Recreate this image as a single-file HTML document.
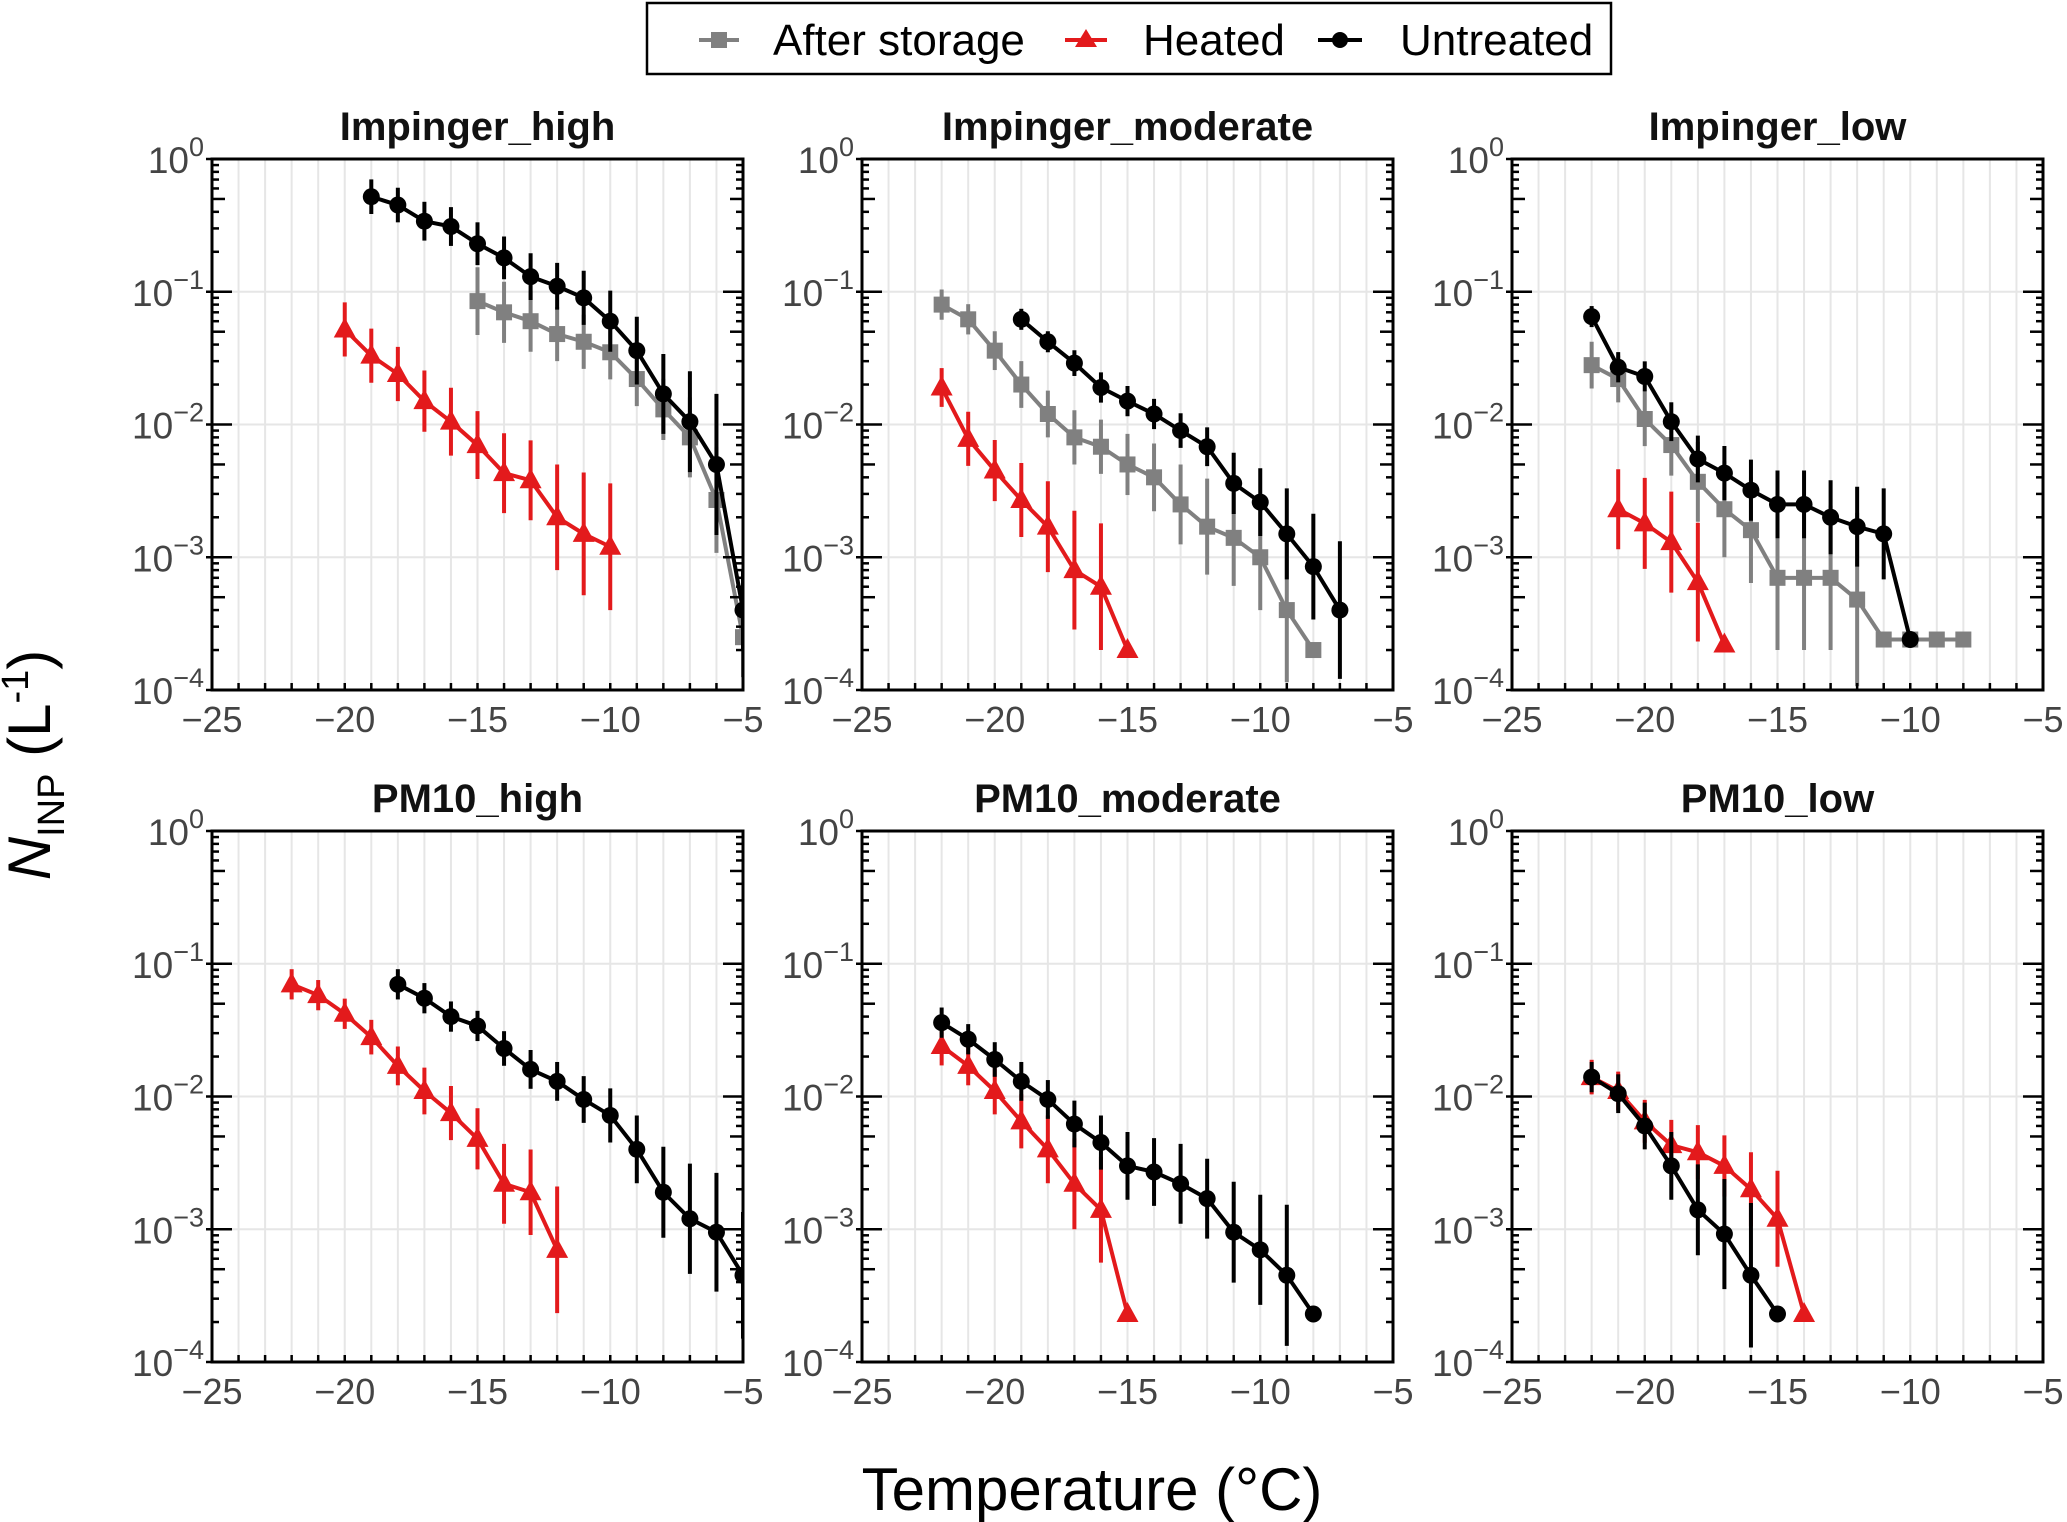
<!DOCTYPE html>
<html><head><meta charset="utf-8"><style>
html,body{margin:0;padding:0;background:#fff;}
svg{display:block;font-family:"Liberation Sans",Arial,sans-serif;}
</style></head><body>
<svg id="chart" width="2067" height="1522" viewBox="0 0 2067 1522" xmlns="http://www.w3.org/2000/svg">
<g>
<rect x="647" y="3" width="964" height="71" fill="#fff" stroke="#000" stroke-width="2.5"/>
<g>
<line x1="699" y1="40" x2="739" y2="40" stroke="#808080" stroke-width="4"/><rect x="711" y="32" width="16" height="16" fill="#808080"/>
<text x="773" y="55" font-size="44" fill="#000">After storage</text></g>
<g>
<line x1="1065" y1="40" x2="1107" y2="40" stroke="#e31a1c" stroke-width="4"/><polygon points="1086,29 1097,47 1075,47" fill="#e31a1c"/>
<text x="1143" y="55" font-size="44" fill="#000">Heated</text></g>
<g>
<line x1="1318" y1="40" x2="1362" y2="40" stroke="#000" stroke-width="4"/><circle cx="1340" cy="40" r="8" fill="#000"/>
<text x="1400" y="55" font-size="44" fill="#000">Untreated</text></g>
</g>
<text transform="translate(50,765) rotate(-90)" text-anchor="middle" font-size="60" fill="#000"><tspan font-style="italic">N</tspan><tspan font-size="38" dy="14">INP</tspan><tspan dy="-14"> (L</tspan><tspan font-size="38" dy="-22">-1</tspan><tspan dy="22">)</tspan></text>
<text x="1092" y="1510" text-anchor="middle" font-size="60" fill="#000">Temperature (°C)</text>
</svg>
<script>
// ---- data ----
const panelTitles = ["Impinger_high","Impinger_moderate","Impinger_low","PM10_high","PM10_moderate","PM10_low"];
const xTicks = [-25,-20,-15,-10,-5];
const yTickExps = [0,-1,-2,-3,-4];
// panel 1
const p1StorageX = [-15,-14,-13,-12,-11,-10,-9,-8,-7,-6,-5];
const p1StorageY = [0.085,0.07,0.06,0.048,0.042,0.035,0.022,0.013,0.008,0.0027,0.00025];
const p1StorageErr = [1.8,1.7,1.7,1.6,1.6,1.6,1.6,1.7,2.0,2.5,2];
const p1HeatedX = [-20,-19,-18,-17,-16,-15,-14,-13,-12,-11,-10];
const p1HeatedY = [0.052,0.033,0.024,0.015,0.0105,0.007,0.0043,0.0038,0.002,0.0015,0.0012];
const p1HeatedErr = [1.6,1.6,1.6,1.7,1.8,1.8,2.0,2.0,2.5,2.9,3.0];
const p1UntreatedX = [-19,-18,-17,-16,-15,-14,-13,-12,-11,-10,-9,-8,-7,-6,-5];
const p1UntreatedY = [0.52,0.45,0.34,0.31,0.23,0.18,0.13,0.11,0.09,0.06,0.036,0.017,0.0105,0.005,0.0004];
const p1UntreatedErr = [1.35,1.35,1.4,1.4,1.45,1.45,1.5,1.5,1.6,1.7,1.8,2.0,2.4,3.4,2];
// panel 2
const p2StorageX = [-22,-21,-20,-19,-18,-17,-16,-15,-14,-13,-12,-11,-10,-9,-8];
const p2StorageY = [0.08,0.062,0.036,0.02,0.012,0.008,0.0068,0.005,0.004,0.0025,0.0017,0.0014,0.001,0.0004,0.0002];
const p2StorageErr = [1.3,1.3,1.4,1.5,1.5,1.6,1.6,1.7,1.8,2.0,2.3,2.3,2.5,3.5,1];
const p2HeatedX = [-22,-21,-20,-19,-18,-17,-16,-15];
const p2HeatedY = [0.019,0.0078,0.0045,0.0027,0.0017,0.0008,0.0006,0.0002];
const p2HeatedErr = [1.4,1.6,1.7,1.9,2.2,2.8,3.0,1];
const p2UntreatedX = [-19,-18,-17,-16,-15,-14,-13,-12,-11,-10,-9,-8,-7];
const p2UntreatedY = [0.062,0.042,0.029,0.019,0.015,0.012,0.009,0.0068,0.0036,0.0026,0.0015,0.00085,0.0004];
const p2UntreatedErr = [1.2,1.2,1.25,1.3,1.3,1.3,1.35,1.4,1.7,1.8,2.2,2.5,3.3];
// panel 3
const p3StorageX = [-22,-21,-20,-19,-18,-17,-16,-15,-14,-13,-12,-11,-10,-9,-8];
const p3StorageY = [0.028,0.022,0.011,0.007,0.0037,0.0023,0.0016,0.0007,0.0007,0.0007,0.00048,0.00024,0.00024,0.00024,0.00024];
const p3StorageErr = [1.5,1.5,1.6,1.7,2.0,2.3,2.5,3.5,3.5,3.5,4.5,1,1,1,1];
const p3HeatedX = [-21,-20,-19,-18,-17];
const p3HeatedY = [0.0023,0.0018,0.0013,0.00065,0.00022];
const p3HeatedErr = [2.0,2.2,2.4,2.8,1];
const p3UntreatedX = [-22,-21,-20,-19,-18,-17,-16,-15,-14,-13,-12,-11,-10];
const p3UntreatedY = [0.065,0.027,0.023,0.0105,0.0055,0.0043,0.0032,0.0025,0.0025,0.002,0.0017,0.0015,0.00024];
const p3UntreatedErr = [1.2,1.3,1.3,1.4,1.5,1.6,1.7,1.8,1.8,1.9,2.0,2.2,1];
// panel 4
const p4HeatedX = [-22,-21,-20,-19,-18,-17,-16,-15,-14,-13,-12];
const p4HeatedY = [0.07,0.058,0.042,0.028,0.017,0.011,0.0075,0.0048,0.0022,0.0019,0.0007];
const p4HeatedErr = [1.3,1.3,1.3,1.35,1.4,1.5,1.6,1.7,2.0,2.1,3.0];
const p4UntreatedX = [-18,-17,-16,-15,-14,-13,-12,-11,-10,-9,-8,-7,-6,-5];
const p4UntreatedY = [0.07,0.055,0.04,0.034,0.023,0.016,0.013,0.0095,0.0072,0.004,0.0019,0.0012,0.00095,0.00045];
const p4UntreatedErr = [1.3,1.3,1.3,1.3,1.35,1.4,1.4,1.5,1.6,1.8,2.2,2.6,2.8,3];
// panel 5
const p5HeatedX = [-22,-21,-20,-19,-18,-17,-16,-15];
const p5HeatedY = [0.024,0.017,0.011,0.0065,0.004,0.0022,0.0014,0.00023];
const p5HeatedErr = [1.4,1.4,1.5,1.6,1.8,2.2,2.5,1];
const p5UntreatedX = [-22,-21,-20,-19,-18,-17,-16,-15,-14,-13,-12,-11,-10,-9,-8];
const p5UntreatedY = [0.036,0.027,0.019,0.013,0.0095,0.0062,0.0045,0.003,0.0027,0.0022,0.0017,0.00095,0.0007,0.00045,0.00023];
const p5UntreatedErr = [1.3,1.3,1.35,1.4,1.4,1.5,1.6,1.8,1.8,2.0,2.0,2.4,2.6,3.4,1];
// panel 6
const p6HeatedX = [-22,-21,-20,-19,-18,-17,-16,-15,-14];
const p6HeatedY = [0.014,0.011,0.0065,0.0043,0.0038,0.003,0.002,0.0012,0.00023];
const p6HeatedErr = [1.35,1.4,1.45,1.55,1.6,1.7,1.9,2.3,1];
const p6UntreatedX = [-22,-21,-20,-19,-18,-17,-16,-15];
const p6UntreatedY = [0.014,0.0105,0.006,0.003,0.0014,0.00092,0.00045,0.00023];
const p6UntreatedErr = [1.3,1.4,1.5,1.8,2.2,2.6,3.5,1];

const panelSeries = [
 [{n:"after-storage",x:p1StorageX,y:p1StorageY,e:p1StorageErr},{n:"heated",x:p1HeatedX,y:p1HeatedY,e:p1HeatedErr},{n:"untreated",x:p1UntreatedX,y:p1UntreatedY,e:p1UntreatedErr}],
 [{n:"after-storage",x:p2StorageX,y:p2StorageY,e:p2StorageErr},{n:"heated",x:p2HeatedX,y:p2HeatedY,e:p2HeatedErr},{n:"untreated",x:p2UntreatedX,y:p2UntreatedY,e:p2UntreatedErr}],
 [{n:"after-storage",x:p3StorageX,y:p3StorageY,e:p3StorageErr},{n:"heated",x:p3HeatedX,y:p3HeatedY,e:p3HeatedErr},{n:"untreated",x:p3UntreatedX,y:p3UntreatedY,e:p3UntreatedErr}],
 [{n:"heated",x:p4HeatedX,y:p4HeatedY,e:p4HeatedErr},{n:"untreated",x:p4UntreatedX,y:p4UntreatedY,e:p4UntreatedErr}],
 [{n:"heated",x:p5HeatedX,y:p5HeatedY,e:p5HeatedErr},{n:"untreated",x:p5UntreatedX,y:p5UntreatedY,e:p5UntreatedErr}],
 [{n:"heated",x:p6HeatedX,y:p6HeatedY,e:p6HeatedErr},{n:"untreated",x:p6UntreatedX,y:p6UntreatedY,e:p6UntreatedErr}]
];
const colors = {"after-storage":"#808080","heated":"#e31a1c","untreated":"#000000"};

const NS="http://www.w3.org/2000/svg";
const svg=document.getElementById('chart');
function mk(tag,attrs,parent){const e=document.createElementNS(NS,tag);for(const k in attrs)e.setAttribute(k,attrs[k]);(parent||svg).appendChild(e);return e;}
const PW=531, PH=531, lefts=[212,862,1512], tops=[159,831];
const xMin=-25,xMax=-5,yMinE=-4,yMaxE=0;

panelTitles.forEach((title,pi)=>{
  const L=lefts[pi%3], T=tops[Math.floor(pi/3)];
  const sx=v=>L+(v-xMin)/(xMax-xMin)*PW;
  const sy=v=>T+(yMaxE-Math.log10(v))/(yMaxE-yMinE)*PH;
  const g=mk('g',{});
  
  
  for(let d=xMin+1; d<xMax; d++){const l=mk('line',{x1:sx(d),x2:sx(d),y1:T,y2:T+PH,stroke:'#e6e6e6','stroke-width':2},g);
    }
  yTickExps.forEach(e=>{const y=sy(Math.pow(10,e));const l=mk('line',{x1:L,x2:L+PW,y1:y,y2:y,stroke:'#e6e6e6','stroke-width':2},g);
    });
  const t=mk('text',{x:L+PW/2,y:T-19,'text-anchor':'middle','font-size':40,'font-weight':'bold',fill:'#111'},g);
  t.textContent=title;
  
  const cid='clip'+pi;
  const cp=mk('clipPath',{id:cid},g);mk('rect',{x:L,y:T-15,width:PW,height:PH+15},cp);
  const sg=mk('g',{'clip-path':'url(#'+cid+')'},g);
  panelSeries[pi].forEach(s=>{
    const c=colors[s.n];
    const ser=mk('g',{},sg);
    
    s.x.forEach((xv,i)=>{ if(s.e[i]>1){const eb=mk('line',{x1:sx(xv),x2:sx(xv),y1:sy(s.y[i]*s.e[i]),y2:sy(s.y[i]/s.e[i]),stroke:c,'stroke-width':4},ser);
      }});
    const pts=s.x.map((xv,i)=>sx(xv)+','+sy(s.y[i])).join(' ');
    const pl=mk('polyline',{points:pts,fill:'none',stroke:c,'stroke-width':4,'stroke-linejoin':'round'},ser);
    
    s.x.forEach((xv,i)=>{const cx=sx(xv),cy=sy(s.y[i]);let m;
      if(s.n==='untreated') m=mk('circle',{cx:cx,cy:cy,r:8.5,fill:c},ser);
      else if(s.n==='heated') m=mk('polygon',{points:(cx)+','+(cy-12)+' '+(cx+11)+','+(cy+8)+' '+(cx-11)+','+(cy+8),fill:c},ser);
      else m=mk('rect',{x:cx-8,y:cy-8,width:16,height:16,fill:c},ser);
      });
  });
  const fr=mk('rect',{x:L,y:T,width:PW,height:PH,fill:'none',stroke:'#000','stroke-width':3},g);
  
  for(let d=xMin+1; d<xMax; d++){mk('line',{x1:sx(d),x2:sx(d),y1:T+PH,y2:T+PH-7,stroke:'#000','stroke-width':2.5},g);}
  xTicks.forEach(v=>{const tx=mk('text',{x:sx(v),y:T+PH+42,'text-anchor':'middle','font-size':36,fill:'#444'},g);
    tx.textContent=(v<0?'\u2212':'')+Math.abs(v);
    });
  for(let e=yMinE;e<yMaxE;e++){for(let k=2;k<=9;k++){const y=sy(k*Math.pow(10,e));const len=(k===5)?13:7;
    mk('line',{x1:L,x2:L+len,y1:y,y2:y,stroke:'#000','stroke-width':2.5},g);
    mk('line',{x1:L+PW,x2:L+PW-len,y1:y,y2:y,stroke:'#000','stroke-width':2.5},g);}}
  yTickExps.forEach(e=>{const y=sy(Math.pow(10,e));
    mk('line',{x1:L-6,x2:L+20,y1:y,y2:y,stroke:'#000','stroke-width':2.5},g);
    mk('line',{x1:L+PW,x2:L+PW-20,y1:y,y2:y,stroke:'#000','stroke-width':2.5},g);
    const ty=mk('text',{x:L-8,y:y+14,'text-anchor':'end','font-size':37,fill:'#444'},g);
    
    const a=document.createElementNS(NS,'tspan');a.textContent='10';ty.appendChild(a);
    const b=document.createElementNS(NS,'tspan');b.setAttribute('dy','-17');b.setAttribute('font-size','27');
    b.textContent=(e<0?'\u2212':'')+Math.abs(e);ty.appendChild(b);});
});
</script>
</body></html>
